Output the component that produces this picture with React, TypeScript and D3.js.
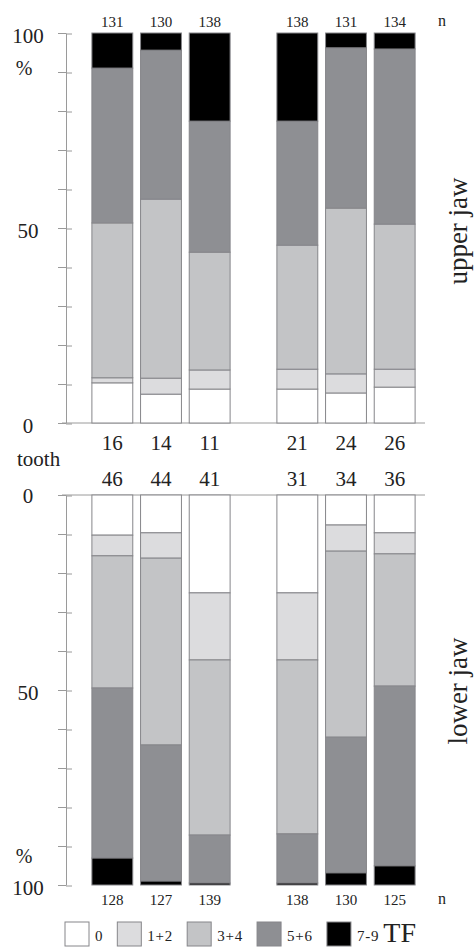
import React, { useEffect, useRef } from 'react';
import * as d3 from 'd3';

// tooth labels and sample sizes
const upperTeeth = ['16', '14', '11', '21', '24', '26'];
const lowerTeeth = ['46', '44', '41', '31', '34', '36'];
const upperN = [131, 130, 138, 138, 131, 134];
const lowerN = [128, 127, 139, 138, 130, 125];

// TF score classes
const scoreKeys = ['0', '1+2', '3+4', '5+6', '7-9'];
const scoreColors = ['#ffffff', '#dcdcde', '#c3c4c6', '#8e8f93', '#000000'];

// upper jaw, % per score class
const upper0 = [10.3, 7.4, 8.7, 8.7, 7.7, 9.2];
const upper12 = [1.3, 4.1, 4.9, 5.1, 4.9, 4.6];
const upper34 = [39.7, 45.9, 30.2, 31.8, 42.5, 37.2];
const upper56 = [39.7, 38.2, 33.6, 31.8, 41.1, 44.9];
const upper79 = [9.0, 4.4, 22.6, 22.6, 3.8, 4.1];

// lower jaw, % per score class
const lower0 = [10.3, 9.7, 25.1, 25.1, 7.7, 9.7];
const lower12 = [5.3, 6.5, 17.2, 17.2, 6.7, 5.4];
const lower34 = [33.9, 47.9, 44.9, 44.6, 47.7, 33.9];
const lower56 = [43.6, 34.9, 12.3, 12.6, 34.8, 46.1];
const lower79 = [6.9, 1.0, 0.5, 0.5, 3.1, 4.9];

const yTicks = d3.range(0, 101, 10);
const axisLabels = [0, 50, 100];

const FONT = "Liberation Serif, Times New Roman, Times, serif";
const GREY = '#9a9a9a';

function App() {
  const ref = useRef<SVGSVGElement>(null);

  useEffect(() => {
    const svg = d3.select(ref.current);
    svg.selectAll('*').remove();

    const width = 476;
    const height = 948;
    svg.attr('width', width).attr('height', height);

    // two groups of bars (right and left side of the jaw)
    const leftX = d3.scaleBand<string>().range([88, 234]).paddingInner(0.16).paddingOuter(0.08);
    const rightX = d3.scaleBand<string>().range([273, 419]).paddingInner(0.16).paddingOuter(0.08);

    function drawPanel(opts: {
      teeth: string[];
      n: number[];
      series: number[][];
      y: d3.ScaleLinear<number, number>;
      toothY: number;
      nY: number;
      pctY: number;
      label: string;
      labelY: number;
      zeroOffset: number;
    }) {
      const { teeth, n, series, y } = opts;
      leftX.domain(teeth.slice(0, 3));
      rightX.domain(teeth.slice(3));
      const xPos = (t: string) => (leftX(t) !== undefined ? (leftX(t) as number) : (rightX(t) as number));
      const bw = leftX.bandwidth();

      const rows = teeth.map((t, i) => {
        const r: any = { tooth: t };
        scoreKeys.forEach((k, j) => (r[k] = series[j][i]));
        return r;
      });
      const stacked = d3.stack<any>().keys(scoreKeys)(rows);

      const g = svg.append('g');

      // axis
      const axis = d3.axisLeft(y).tickValues(yTicks).tickSizeInner(8).tickSizeOuter(0).tickFormat(() => '');
      const ax = g.append('g').attr('transform', 'translate(66,0)').call(axis);
      ax.select('.domain').attr('stroke', GREY);
      ax.selectAll('.tick line').attr('stroke', GREY);
      ax.selectAll('g.tick').append('line')
        .attr('x1', 0).attr('x2', 6).attr('y1', 0.5).attr('y2', 0.5)
        .attr('stroke', GREY);

      g.append('line')
        .attr('x1', 62).attr('x2', 425)
        .attr('y1', y(0)).attr('y2', y(0))
        .attr('stroke', GREY);

      // stacked bars
      stacked.forEach((layer, j) => {
        g.append('g')
          .selectAll('rect')
          .data(layer)
          .join('rect')
          .attr('x', (d: any) => xPos(d.data.tooth))
          .attr('width', bw)
          .attr('y', (d: any) => Math.min(y(d[0]), y(d[1])))
          .attr('height', (d: any) => Math.abs(y(d[1]) - y(d[0])))
          .attr('fill', scoreColors[j])
          .attr('stroke', '#86868a')
          .attr('stroke-width', 1);
      });

      // axis labels
      g.selectAll('text.ylab')
        .data(axisLabels)
        .join('text')
        .attr('class', 'ylab')
        .attr('x', 28)
        .attr('y', (d) => y(d) + (d === 0 ? opts.zeroOffset : 10))
        .attr('text-anchor', 'middle')
        .attr('font-size', 21)
        .text((d) => d);

      g.append('text')
        .attr('x', 24).attr('y', opts.pctY)
        .attr('text-anchor', 'middle')
        .attr('font-size', 20)
        .text('%');

      // tooth numbers
      g.selectAll('text.tooth')
        .data(teeth)
        .join('text')
        .attr('class', 'tooth')
        .attr('x', (t) => xPos(t) + bw / 2)
        .attr('y', opts.toothY)
        .attr('text-anchor', 'middle')
        .attr('font-size', 21)
        .text((t) => t);

      // sample sizes
      g.selectAll('text.n')
        .data(teeth)
        .join('text')
        .attr('class', 'n')
        .attr('x', (t) => xPos(t) + bw / 2)
        .attr('y', opts.nY)
        .attr('text-anchor', 'middle')
        .attr('font-size', 15)
        .text((t, i) => n[i]);

      g.append('text')
        .attr('x', 442).attr('y', opts.nY - 1)
        .attr('text-anchor', 'middle')
        .attr('font-size', 16)
        .text('n');

      g.append('text')
        .attr('transform', `translate(467,${opts.labelY}) rotate(-90)`)
        .attr('text-anchor', 'middle')
        .attr('font-size', 27)
        .text(opts.label);
    }

    svg.style('font-family', FONT).attr('fill', '#222');

    const yUpper = d3.scaleLinear().domain([0, 100]).range([423, 33]);
    drawPanel({
      teeth: upperTeeth,
      n: upperN,
      series: [upper0, upper12, upper34, upper56, upper79],
      y: yUpper,
      toothY: 450,
      nY: 27,
      pctY: 75,
      label: 'upper jaw',
      labelY: 231,
      zeroOffset: 10,
    });

    const yLower = d3.scaleLinear().domain([0, 100]).range([495, 885]);
    drawPanel({
      teeth: lowerTeeth,
      n: lowerN,
      series: [lower0, lower12, lower34, lower56, lower79],
      y: yLower,
      toothY: 486,
      nY: 905,
      pctY: 863,
      label: 'lower jaw',
      labelY: 691,
      zeroOffset: 8,
    });

    svg.append('text')
      .attr('x', 17).attr('y', 466)
      .attr('font-size', 21)
      .text('tooth');

    // legend: each item placed after the previous item's text
    const leg = svg.append('g');
    let lx = 65;
    scoreKeys.forEach((k, i) => {
      const item = leg.append('g').attr('transform', `translate(${lx},922)`);
      item.append('rect')
        .attr('width', 24).attr('height', 24)
        .attr('fill', scoreColors[i])
        .attr('stroke', '#86868a');
      const t = item.append('text')
        .attr('x', 30).attr('y', 19)
        .attr('font-size', 15)
        .attr('letter-spacing', 0.8)
        .text(k);
      const tw = (t.node() as SVGTextElement).getComputedTextLength();
      lx += 30 + tw + 14;
    });

    svg.append('text')
      .attr('x', lx - 10).attr('y', 942)
      .attr('font-size', 28)
      .text('TF');
  }, []);

  return (
    <svg ref={ref} style={{ position: 'absolute', left: 0, top: 0, background: '#fff' }} />
  );
}

export default App;
